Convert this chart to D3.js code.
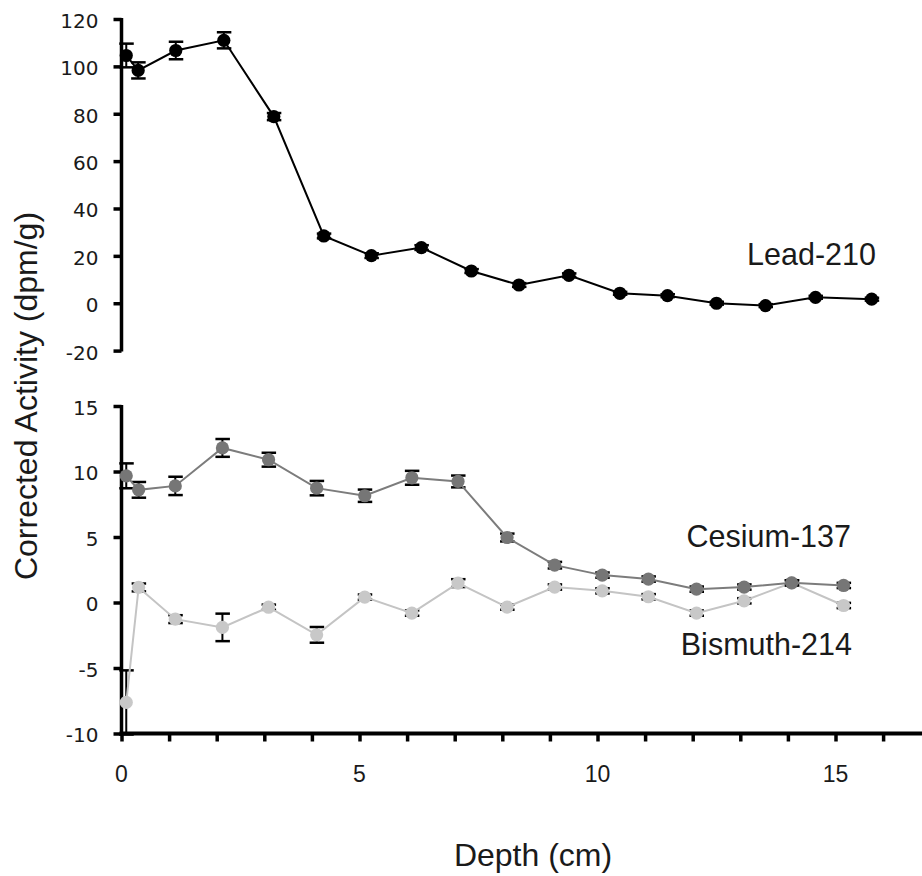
<!DOCTYPE html>
<html>
<head>
<meta charset="utf-8">
<script src="https://cdn.jsdelivr.net/npm/d3@7"></script>
<style>
  html, body { margin: 0; padding: 0; background: #fff; }
  svg { display: block; }
  text { font-family: "Liberation Sans", Arial, sans-serif; fill: #1a1a1a; }
</style>
</head>
<body>
<svg id="chart" width="922" height="876"></svg>
<script>
// ---- Data ----
const leadDepth = [0.1, 0.35, 1.14, 2.15, 3.2, 4.25, 5.25, 6.3, 7.35, 8.35, 9.4, 10.47, 11.47, 12.5, 13.53, 14.58, 15.76];
const leadValue = [104.6, 98.3, 106.7, 111.0, 78.8, 28.4, 20.1, 23.5, 13.6, 7.7, 11.8, 4.2, 3.2, 0.0, -1.0, 2.5, 1.7];
const leadError = [5.0, 3.4, 3.7, 3.4, 1.5, 1.0, 1.0, 1.0, 0.8, 0.8, 0.8, 0.6, 0.6, 0.6, 0.6, 0.6, 0.6];

const lowerDepth = [0.1, 0.36, 1.13, 2.12, 3.09, 4.1, 5.11, 6.1, 7.07, 8.1, 9.1, 10.1, 11.07, 12.08, 13.08, 14.08, 15.17];
const cesiumValue = [9.67, 8.6, 8.9, 11.8, 10.9, 8.73, 8.15, 9.52, 9.24, 4.96, 2.85, 2.09, 1.79, 1.02, 1.18, 1.5, 1.3];
const cesiumError = [0.95, 0.6, 0.7, 0.68, 0.53, 0.55, 0.47, 0.53, 0.45, 0.3, 0.25, 0.2, 0.2, 0.2, 0.2, 0.2, 0.2];
const bismuthValue = [-7.63, 1.15, -1.27, -1.9, -0.36, -2.47, 0.41, -0.81, 1.48, -0.35, 1.18, 0.89, 0.44, -0.81, 0.13, 1.5, -0.23];
const bismuthError = [2.45, 0.3, 0.3, 1.05, 0.2, 0.6, 0.2, 0.2, 0.3, 0.2, 0.2, 0.2, 0.2, 0.2, 0.2, 0.2, 0.2];

const topTicks = [-20, 0, 20, 40, 60, 80, 100, 120];
const bottomTicks = [-10, -5, 0, 5, 10, 15];
const xMajorTicks = [0, 5, 10, 15];
const xMinorTicks = d3.range(0, 18, 1);

const xTitle = "Depth (cm)";
const yTitle = "Corrected Activity (dpm/g)";

// ---- Scales ----
const svg = d3.select("#chart");
const x = d3.scaleLinear().domain([0, 17]).range([121.5, 121.5 + 17 * 47.6]);
const yTop = d3.scaleLinear().domain([-20, 120]).range([350.6, 19.0]);
const yBot = d3.scaleLinear().domain([-10, 15]).range([733.5, 406.0]);

// ---- Axes ----
function yAxis(scale, ticks) {
  const g = svg.append("g").attr("transform", `translate(${x(0)},0)`);
  g.call(d3.axisLeft(scale).tickValues(ticks).tickSize(8).tickPadding(15).tickFormat(d => String(d)));
  g.select(".domain").attr("stroke", "#000").attr("stroke-width", 3.5)
    .attr("d", `M0,${scale.range()[0] + 1}V${scale.range()[1] - 1}`);
  g.selectAll(".tick line").attr("stroke", "#000").attr("stroke-width", 3.5);
  g.selectAll(".tick text")
    .style("font-family", "'DejaVu Sans', sans-serif")
    .attr("font-size", 20).attr("fill", "#1a1a1a").attr("dy", "0.42em");
  return g;
}
yAxis(yTop, topTicks);
yAxis(yBot, bottomTicks);

// x axis
const gx = svg.append("g").attr("transform", `translate(0,${yBot(-10)})`);
gx.call(d3.axisBottom(x).tickValues(xMinorTicks).tickSize(8).tickFormat(""));
gx.select(".domain").attr("stroke", "#000").attr("stroke-width", 4)
  .attr("d", `M${x(0) - 2},0H922`);
gx.selectAll(".tick line").attr("stroke", "#000").attr("stroke-width", 3.5);
svg.selectAll(".xlab").data(xMajorTicks).enter().append("text")
  .attr("class", "xlab")
  .attr("x", d => x(d)).attr("y", 782)
  .attr("text-anchor", "middle").attr("font-size", 23)
  .text(d => String(d));

// titles
svg.append("text").attr("x", 533).attr("y", 866)
  .attr("text-anchor", "middle").attr("font-size", 32).text(xTitle);
svg.append("text").attr("transform", "translate(37,396) rotate(-90)")
  .attr("text-anchor", "middle").attr("font-size", 32).text(yTitle);

// ---- Series ----
function drawSeries(depths, values, errors, yScale, lineColor, dotColor) {
  const pts = depths.map((d, i) => ({ d, v: values[i], e: errors[i] }));
  const g = svg.append("g");
  const eb = g.selectAll(".eb").data(pts).enter().append("g");
  eb.append("line")
    .attr("x1", p => x(p.d)).attr("x2", p => x(p.d))
    .attr("y1", p => yScale(p.v + p.e)).attr("y2", p => yScale(p.v - p.e))
    .attr("stroke", "#000").attr("stroke-width", 2);
  [1, -1].forEach(s => {
    eb.append("line")
      .attr("x1", p => x(p.d) - 7).attr("x2", p => x(p.d) + 7.5)
      .attr("y1", p => yScale(p.v + s * p.e)).attr("y2", p => yScale(p.v + s * p.e))
      .attr("stroke", "#000").attr("stroke-width", 2.5);
  });
  g.append("path").datum(pts)
    .attr("d", d3.line().x(p => x(p.d)).y(p => yScale(p.v)))
    .attr("fill", "none").attr("stroke", lineColor).attr("stroke-width", 2);
  g.selectAll("circle").data(pts).enter().append("circle")
    .attr("cx", p => x(p.d)).attr("cy", p => yScale(p.v)).attr("r", 6.6)
    .attr("fill", dotColor);
}
drawSeries(lowerDepth, bismuthValue, bismuthError, yBot, "#c4c4c4", "#c8c8c8");
drawSeries(lowerDepth, cesiumValue, cesiumError, yBot, "#7c7c7c", "#767676");
drawSeries(leadDepth, leadValue, leadError, yTop, "#000", "#000");

// series labels
const seriesLabels = [
  { t: "Lead-210", x: 876, y: 265 },
  { t: "Cesium-137", x: 851, y: 547 },
  { t: "Bismuth-214", x: 852, y: 655 }
];
svg.selectAll(".slab").data(seriesLabels).enter().append("text")
  .attr("class", "slab")
  .attr("x", d => d.x).attr("y", d => d.y)
  .attr("text-anchor", "end").attr("font-size", 30.5)
  .text(d => d.t);
</script>
</body>
</html>
